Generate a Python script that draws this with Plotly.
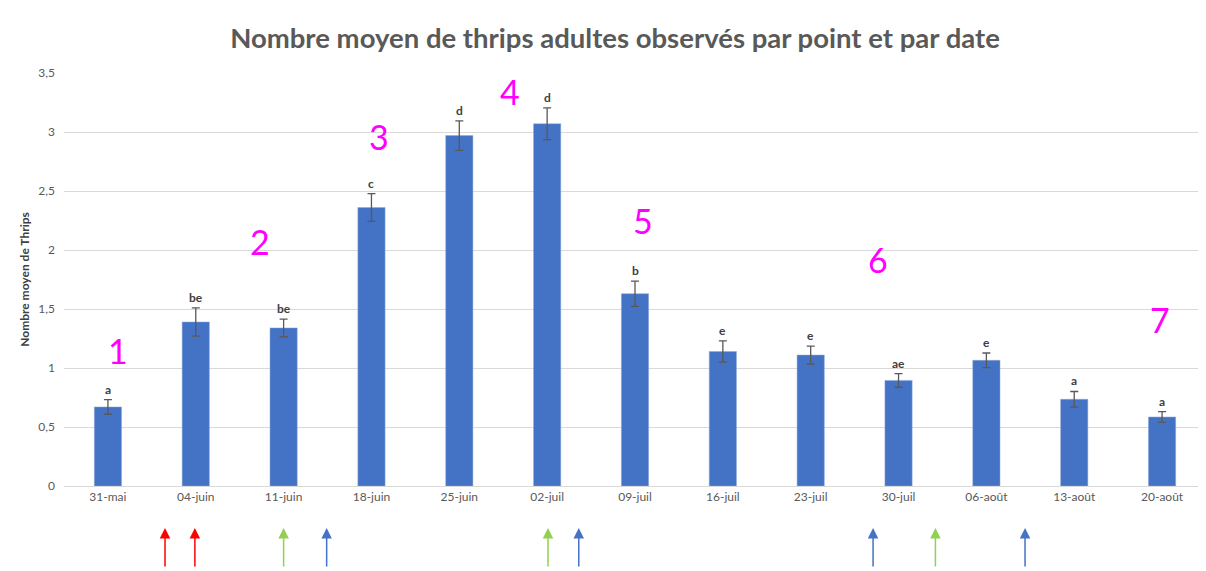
import plotly.graph_objects as go

dates = ["31-mai", "04-juin", "11-juin", "18-juin", "25-juin", "02-juil", "09-juil",
         "16-juil", "23-juil", "30-juil", "06-août", "13-août", "20-août"]
means = [0.67, 1.39, 1.34, 2.36, 2.97, 3.07, 1.63, 1.14, 1.11, 0.895, 1.065, 0.735, 0.585]
errors = [0.062, 0.12, 0.075, 0.117, 0.125, 0.135, 0.107, 0.09, 0.076, 0.058, 0.062, 0.066, 0.045]
letters = ["a", "be", "be", "c", "d", "d", "b", "e", "e", "ae", "e", "a", "a"]

period_labels = ["1", "2", "3", "4", "5", "6", "7"]
period_x = [0.11, 1.73, 3.09, 4.58, 6.09, 8.77, 11.98]
period_y = [1.15, 2.07, 2.96, 3.34, 2.25, 1.92, 1.41]

arrow_x = [0.65, 0.99, 2.0, 2.49, 5.01, 5.36, 8.71, 9.42, 10.44]
arrow_colors = ["#FF0000", "#FF0000", "#92D050", "#4472C4", "#92D050", "#4472C4",
                "#4472C4", "#92D050", "#4472C4"]

# page body has an 8px margin: compensate so the plot lands where the reference has it
W, H = 1198, 563
plot_h = H - 65 - 85

fig = go.Figure()
fig.add_trace(go.Bar(
    x=dates, y=means,
    marker=dict(color="#4472C4", line=dict(color="#8FAADC", width=0.5)),
    width=0.31,
    error_y=dict(type="data", array=errors, color="#595959", thickness=1.3, width=4),
    hoverinfo="skip",
))

annotations = []
for d, m, e, l in zip(dates, means, errors, letters):
    annotations.append(dict(x=d, y=m + e, text="<b>" + l + "</b>", showarrow=False,
                            yanchor="bottom", yshift=1,
                            font=dict(family="Lato", size=12, color="#404040"),
                            xref="x", yref="y"))
for t, px, py in zip(period_labels, period_x, period_y):
    annotations.append(dict(x=px, y=py, text=t, showarrow=False, xref="x", yref="y",
                            font=dict(family="Lato", size=34, color="#FF00FF")))
for ax_, c in zip(arrow_x, arrow_colors):
    annotations.append(dict(x=ax_, y=-42 / plot_h, xref="x", yref="paper", text="",
                            showarrow=True, arrowhead=2, arrowsize=1.4, arrowwidth=1.5,
                            arrowcolor=c, ax=0, ay=40))

fig.update_layout(
    width=W, height=H,
    margin=dict(l=56, r=0, t=65, b=85),
    paper_bgcolor="white", plot_bgcolor="white",
    separators=", ",
    showlegend=False,
    title=dict(text="<b>Nombre moyen de thrips adultes observés par point et par date</b>",
               x=607 / W, xanchor="center", y=1 - 30 / H, yanchor="middle",
               font=dict(family="Lato", size=27.5, color="#595959")),
    xaxis=dict(type="category", tickfont=dict(family="Lato", size=12, color="#595959"),
               showgrid=False, showline=True, linecolor="#D9D9D9", linewidth=1,
               ticks="", range=[-0.5, 12.5]),
    yaxis=dict(range=[0, 3.5], dtick=0.5, showgrid=True, gridcolor="#D9D9D9", gridwidth=1,
               zeroline=False, tickfont=dict(family="Lato", size=12, color="#595959"),
               ticks="", ticklabelstandoff=8,
               title=dict(text="<b>Nombre moyen de Thrips</b>", standoff=6,
                          font=dict(family="Lato", size=12, color="#404040"))),
    annotations=annotations,
)

fig.write_html("out.html")
